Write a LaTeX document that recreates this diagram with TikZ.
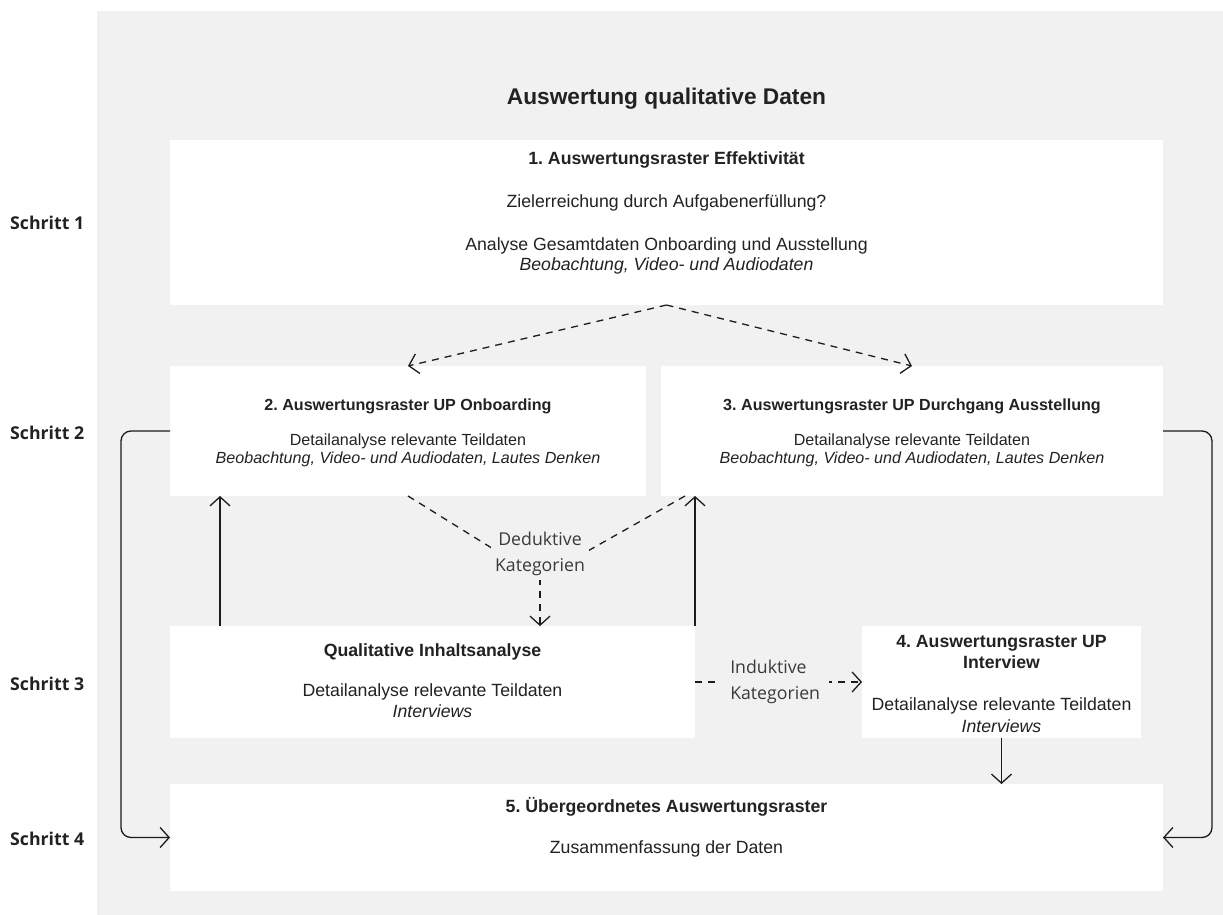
\documentclass[tikz,border=0pt]{standalone}
\usepackage{fontspec}
\setmainfont{Liberation Sans}
\newfontfamily\opensans{Open Sans}
\usetikzlibrary{arrows.meta,calc}
\frenchspacing

\definecolor{panel}{HTML}{F1F1F1}
\definecolor{ink}{HTML}{222222}
\definecolor{labelink}{HTML}{3A3A3A}
\definecolor{wire}{HTML}{1C1C1C}

\newcommand\bxfont{\fontsize{17.7}{20.5}\selectfont}
\newcommand\smfont{\fontsize{16.1}{18}\selectfont}
\newcommand\ttlfont{\fontsize{22.7}{26}\selectfont\bfseries}
\newcommand\lblfont{\opensans\fontsize{17.7}{26}\selectfont}

\tikzset{
  box/.style={fill=white, draw=none, inner sep=0pt, outer sep=0pt},
  txt/.style={text=ink, inner sep=0pt, anchor=base, font=\bxfont},
  txtb/.style={txt, font=\bxfont\bfseries},
  txti/.style={txt, font=\bxfont\itshape},
  sm/.style={txt, font=\smfont},
  smb/.style={txt, font=\smfont\bfseries},
  smi/.style={txt, font=\smfont\itshape},
  stepname/.style={text=ink, inner sep=0pt, anchor=base west, font=\opensans\fontsize{17.7}{20}\selectfont\bfseries},
  catlabel/.style={text=labelink, fill=panel, font=\lblfont},
  wireline/.style={draw=wire, line width=1.3pt},
  arr/.style={wireline, -{Straight Barb[length=9pt,width=20pt]}},
  dashline/.style={wireline, dash pattern=on 7pt off 6pt},
  dasharr/.style={arr, dash pattern=on 7pt off 6pt},
}

\begin{document}
\begin{tikzpicture}[x=1pt, y=-1pt]
  \useasboundingbox (0,0) rectangle (1223,915);
  % grey panel
  \fill[panel] (97,11) rectangle (1223,915);

  % heading
  \node[text=ink, inner sep=0pt, anchor=base, font=\ttlfont] (head) at (666.5,105) {Auswertung qualitative Daten};

  % step labels
  \node[stepname] (s1) at (10,229) {Schritt 1};
  \node[stepname] (s2) at (10,439) {Schritt 2};
  \node[stepname] (s3) at (10,690) {Schritt 3};
  \node[stepname] (s4) at (10,845) {Schritt 4};

  % boxes
  \node[box, minimum width=993pt, minimum height=165pt] (b1) at (666.5,222.5) {};
  \node[box, minimum width=476pt, minimum height=130pt] (b2) at (408,431) {};
  \node[box, minimum width=502pt, minimum height=130pt] (b3) at (912,431) {};
  \node[box, minimum width=525pt, minimum height=112pt] (qi) at (432.5,682) {};
  \node[box, minimum width=279pt, minimum height=112pt] (b4) at (1001.5,682) {};
  \node[box, minimum width=993pt, minimum height=107pt] (b5) at (666.5,837.5) {};

  % box texts
  \node[txtb] (b1a) at (666.5,164.3) {1. Auswertungsraster Effektivität};
  \node[txt]  (b1b) at (666.5,207.3) {Zielerreichung durch Aufgabenerfüllung?};
  \node[txt]  (b1c) at (666.5,250.3) {Analyse Gesamtdaten Onboarding und Ausstellung};
  \node[txti] (b1d) at (666.5,270.3) {Beobachtung, Video- und Audiodaten};

  \node[smb] (b2a) at (408,410.8) {2. Auswertungsraster UP Onboarding};
  \node[sm]  (b2b) at (408,445.8) {Detailanalyse relevante Teildaten};
  \node[smi] (b2c) at (408,463.8) {Beobachtung, Video- und Audiodaten, Lautes Denken};

  \node[smb] (b3a) at (912,410.8) {3. Auswertungsraster UP Durchgang Ausstellung};
  \node[sm]  (b3b) at (912,445.8) {Detailanalyse relevante Teildaten};
  \node[smi] (b3c) at (912,463.8) {Beobachtung, Video- und Audiodaten, Lautes Denken};

  \node[txtb] (qia) at (432.5,656.3) {Qualitative Inhaltsanalyse};
  \node[txt]  (qib) at (432.5,696.3) {Detailanalyse relevante Teildaten};
  \node[txti] (qic) at (432.5,717.3) {Interviews};

  \node[txtb] (b4a) at (1001.5,647.3) {4. Auswertungsraster UP};
  \node[txtb] (b4b) at (1001.5,668.3) {Interview};
  \node[txt]  (b4c) at (1001.5,710.3) {Detailanalyse relevante Teildaten};
  \node[txti] (b4d) at (1001.5,732.3) {Interviews};

  \node[txtb] (b5a) at (666.5,812.3) {5. Übergeordnetes Auswertungsraster};
  \node[txt]  (b5b) at (666.5,853.3) {Zusammenfassung der Daten};

  % step 1 -> step 2
  \draw[dasharr] (b1.south) -- (b2.north);
  \draw[dasharr] (b1.south) -- (b3.north);

  % deductive categories
  \coordinate (dj) at (540,578);
  \draw[dashline] (b2.south) -- (dj);
  \draw[dashline] ([xshift=24pt]b3.south west) -- (dj);
  \draw[dasharr] (dj) -- (dj |- qi.north);
  \node[catlabel, align=center, inner sep=4pt] (ded) at (540,554) {Deduktive\\Kategorien};

  % feedback from the content analysis
  \draw[arr] ([xshift=50pt]qi.north west) -- ([xshift=50pt]b2.south west);
  \draw[arr] (qi.north east) -- (qi.north east |- b3.south);

  % inductive categories
  \draw[dasharr] (qi.east) -- (b4.west)
    node[catlabel, pos=0.48, align=left, inner sep=9pt] (ind) {Induktive\\Kategorien};

  % into the overall grid
  \draw[arr] (b4.south) -- (b4.south |- b5.north);
  \draw[arr, rounded corners=10pt] (b2.west) -- ++(-49,0) |- (b5.west);
  \draw[arr, rounded corners=10pt] (b3.east) -- ++(49,0) |- (b5.east);
\end{tikzpicture}
\end{document}
